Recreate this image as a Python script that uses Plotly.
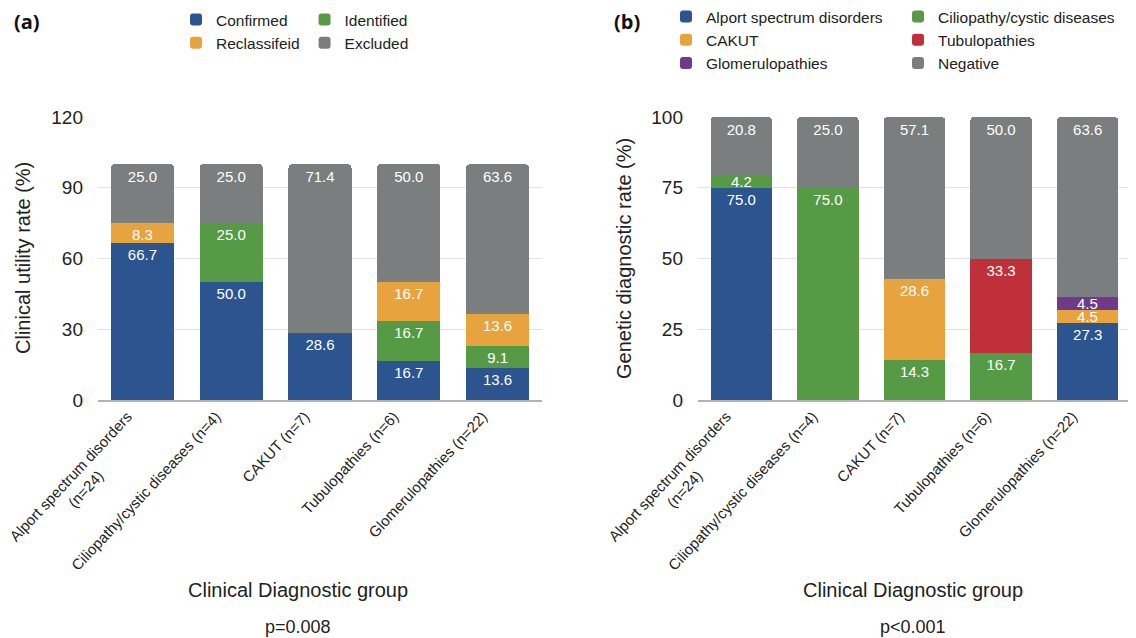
import plotly.graph_objects as go

categories = [
    "Alport spectrum disorders (n=24)",
    "Ciliopathy/cystic diseases (n=4)",
    "CAKUT (n=7)",
    "Tubulopathies (n=6)",
    "Glomerulopathies (n=22)",
]
# tick labels as printed (first one wraps onto two centred lines)
tick_labels = [
    "Alport spectrum disorders<br>(n=24)" + "\u00a0" * 15,
    "Ciliopathy/cystic diseases (n=4)",
    "CAKUT (n=7)",
    "Tubulopathies (n=6)",
    "Glomerulopathies (n=22)",
]

# Panel (a): clinical utility rate (%)
a_confirmed = [66.7, 50.0, 28.6, 16.7, 13.6]
a_identified = [None, 25.0, None, 16.7, 9.1]
a_reclassified = [8.3, None, None, 16.7, 13.6]
a_excluded = [25.0, 25.0, 71.4, 50.0, 63.6]

# Panel (b): genetic diagnostic rate (%)
b_alport = [75.0, None, None, None, 27.3]
b_cilio = [4.2, 75.0, 14.3, 16.7, None]
b_cakut = [None, None, 28.6, None, 4.5]
b_tubulo = [None, None, None, 33.3, None]
b_glom = [None, None, None, None, 4.5]
b_negative = [20.8, 25.0, 57.1, 50.0, 63.6]

a_ticks = [0, 30, 60, 90, 120]
b_ticks = [0, 25, 50, 75, 100]

BLUE = "#2c5590"
ORANGE = "#e7a33e"
GREEN = "#569a46"
GRAY = "#7a7e7e"
RED = "#c0303a"
PURPLE = "#6e3b8b"

FONT = "Liberation Sans, Arial, Helvetica, sans-serif"
TXT = "#222222"

# page has an 8px body margin; work in figure pixels = screen pixels - 8
OFF = 8
W, H = 1136 - OFF, 638 - OFF
SMALL = 6.0  # segments thinner than this get a centred label

def px(v):
    return (v - OFF) / W

def py(v):
    return 1 - (v - OFF) / H

fig = go.Figure()
small_labels = []
bases = {"y": [0.0] * 5, "y2": [0.0] * 5}

def add_bar(name, vals, color, xa, ya, legend, group):
    pos = []
    for i, v in enumerate(vals):
        if v is None:
            pos.append("none")
            continue
        if v < SMALL:
            pos.append("none")
            small_labels.append(dict(x=categories[i], y=bases[ya][i] + v / 2,
                                     text=f"{v:.1f}", xref=xa, yref=ya))
        else:
            pos.append("inside")
        bases[ya][i] += v
    fig.add_trace(go.Bar(
        x=categories, y=vals, name=name,
        marker=dict(color=color, line=dict(width=0)),
        texttemplate="%{y:.1f}", textposition=pos,
        insidetextanchor="end", constraintext="none",
        textfont=dict(color="white", size=15, family=FONT),
        xaxis=xa, yaxis=ya, legend=legend, legendgroup=group,
        hoverinfo="skip",
    ))

add_bar("Confirmed", a_confirmed, BLUE, "x", "y", "legend", "a1")
add_bar("Identified", a_identified, GREEN, "x", "y", "legend", "a2")
add_bar("Reclassifeid", a_reclassified, ORANGE, "x", "y", "legend", "a1")
add_bar("Excluded", a_excluded, GRAY, "x", "y", "legend", "a2")

add_bar("Alport spectrum disorders", b_alport, BLUE, "x2", "y2", "legend2", "b1")
add_bar("Ciliopathy/cystic diseases", b_cilio, GREEN, "x2", "y2", "legend2", "b2")
add_bar("CAKUT", b_cakut, ORANGE, "x2", "y2", "legend2", "b1")
add_bar("Tubulopathies", b_tubulo, RED, "x2", "y2", "legend2", "b2")
add_bar("Glomerulopathies", b_glom, PURPLE, "x2", "y2", "legend2", "b1")
add_bar("Negative", b_negative, GRAY, "x2", "y2", "legend2", "b2")

ydom = [py(400), py(117)]

xcommon = dict(
    type="category", tickangle=-47, showgrid=False, showline=True,
    linecolor="#b3b3b3", linewidth=2, ticks="", automargin=False,
    tickmode="array", tickvals=categories, ticktext=tick_labels,
    ticklabelshift=-15, ticklabelstandoff=0,
    tickfont=dict(size=15, color=TXT, family=FONT),
)
ycommon = dict(
    showgrid=True, gridcolor="#e2e2e2", gridwidth=1, zeroline=False,
    showline=False, ticks="", ticklabelstandoff=14, automargin=False,
    tickfont=dict(size=19, color=TXT, family=FONT),
)

legend_common = dict(
    orientation="h", traceorder="grouped", xanchor="left", yanchor="top",
    font=dict(size=15.5, color=TXT, family=FONT), bgcolor="rgba(0,0,0,0)",
    itemclick=False, itemdoubleclick=False,
)

fig.update_layout(
    width=W, height=H,
    margin=dict(l=0, r=0, t=0, b=0, autoexpand=False),
    paper_bgcolor="white", plot_bgcolor="white",
    barmode="stack", bargap=0.29, barcornerradius=4,
    font=dict(family=FONT, color=TXT),
    showlegend=True,
    xaxis=dict(xcommon, domain=[px(98), px(542)], anchor="y"),
    yaxis=dict(ycommon, domain=ydom, range=[0, 120], tickvals=a_ticks, anchor="x"),
    xaxis2=dict(xcommon, domain=[px(698), px(1131)], anchor="y2"),
    yaxis2=dict(ycommon, domain=ydom, range=[0, 100], tickvals=b_ticks, anchor="x2"),
    legend=dict(legend_common, x=px(176), y=1 + 5 / H, tracegroupgap=16),
    legend2=dict(legend_common, x=px(666), y=1 + 8 / H, tracegroupgap=16,
                 entrywidth=187, entrywidthmode="pixels"),
)

ann = [
    dict(text="<b>(a)</b>", x=px(12), y=py(21), xanchor="left", yanchor="middle",
         font=dict(size=20, family="Open Sans, Arial", color="#111")),
    dict(text="<b>(b)</b>", x=px(612), y=py(21), xanchor="left", yanchor="middle",
         font=dict(size=20, family="Open Sans, Arial", color="#111")),
    dict(text="Clinical utility rate (%)", x=px(23), y=py(258), textangle=-90,
         xanchor="center", yanchor="middle", font=dict(size=20)),
    dict(text="Genetic diagnostic rate (%)", x=px(624), y=py(259), textangle=-90,
         xanchor="center", yanchor="middle", font=dict(size=20)),
    dict(text="Clinical Diagnostic group", x=px(298), y=py(590),
         xanchor="center", yanchor="middle", font=dict(size=20)),
    dict(text="Clinical Diagnostic group", x=px(913), y=py(590),
         xanchor="center", yanchor="middle", font=dict(size=20)),
    dict(text="p=0.008", x=px(298), y=py(627),
         xanchor="center", yanchor="middle", font=dict(size=18)),
    dict(text="p<0.001", x=px(913), y=py(627),
         xanchor="center", yanchor="middle", font=dict(size=18)),
]
for a in ann:
    a.update(xref="paper", yref="paper", showarrow=False)
    a.setdefault("font", {})
    a["font"].setdefault("family", FONT)
    a["font"].setdefault("color", TXT)
for s in small_labels:
    s.update(showarrow=False, xanchor="center", yanchor="middle",
             font=dict(size=15, color="white", family=FONT))
    ann.append(s)
fig.update_layout(annotations=ann)

fig.write_html("out.html")
